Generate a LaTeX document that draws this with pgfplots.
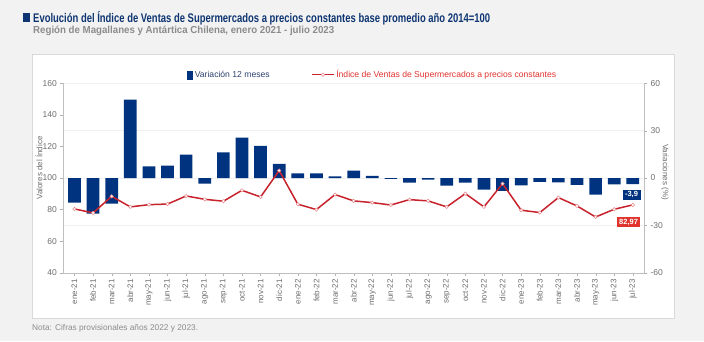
\documentclass[border=0pt]{standalone}
\usepackage{pgfplots}
\pgfplotsset{compat=1.18}
\usepackage{fontspec}
\setmainfont{Liberation Sans}
\definecolor{barblue}{HTML}{00337F}
\definecolor{linered}{HTML}{C8232C}
\definecolor{markred}{HTML}{E8868A}
\definecolor{titleblue}{HTML}{0E3572}
\definecolor{subgray}{HTML}{8C8C8C}
\definecolor{bggray}{HTML}{F2F2F2}
\definecolor{ticgray}{HTML}{6E6E6E}
\definecolor{legblue}{HTML}{2E4170}
\definecolor{labred}{HTML}{E0332E}
\pgfplotsset{longline legend/.style={legend image code/.code={\draw[mark repeat=2,mark phase=2,##1, line width=0.6pt] plot coordinates {(0pt,0pt) (11pt,0pt) (22pt,0pt)};}}}
\newcommand\titletext{Evolución del Índice de Ventas de Supermercados a precios constantes base promedio año 2014=100}
\newcommand\subtext{Región de Magallanes y Antártica Chilena, enero 2021 - julio 2023}
\begin{document}
\begin{tikzpicture}[x=1pt,y=1pt]
\fill[bggray] (0,0) rectangle (704,341);
\filldraw[fill=white, draw=gray!30] (31.7,23) rectangle (674,287);
\fill[titleblue] (23,319) rectangle (30,328);
\node[anchor=base west, inner sep=0, text=titleblue] at (33,318.5) {\resizebox{457pt}{\height}{\fontsize{12.5}{12.5}\selectfont\bfseries\titletext}};
\node[anchor=base west, inner sep=0, text=subgray] at (33,307.5) {\resizebox{301pt}{\height}{\fontsize{10.2}{10.2}\selectfont\bfseries\subtext}};
\node[anchor=base west, inner sep=0, text=subgray, font=\fontsize{8.3}{9}\selectfont] at (32,11) {Nota: Cifras provisionales años 2022 y 2023.};
% right axis: bars
\begin{axis}[at={(63.3pt,68.3pt)}, anchor=south west, scale only axis,
  width=580.7pt, height=189.4pt,
  xmin=-0.6, xmax=30.6, ymin=-60, ymax=60,
  hide x axis, axis y line*=right,
  ytick={-60,-30,0,30,60},
  ymajorgrids, grid style={gray!12},
  axis line style={gray!50}, tick style={gray!60},
  tick align=outside, major tick length=3pt,
  /pgf/number format/assume math mode=true,
  tick label style={font=\fontsize{8.5}{9}\selectfont, text=ticgray},
  ylabel={Variaciones (\%)},
  ylabel style={rotate=180, at={(axis description cs:1.036,0.532)}, anchor=center, font=\fontsize{8}{9}\selectfont, text=ticgray},
  clip=false]
\addplot[ybar, bar width=12.7pt, fill=barblue, draw=none] coordinates {
(0,-15.6) (1,-22.5) (2,-16.2) (3,49.6) (4,7.4) (5,7.8) (6,14.8) (7,-3.5) (8,16.3) (9,25.6) (10,20.3) (11,8.9)
(12,3.0) (13,3.0) (14,1.1) (15,4.7) (16,1.3) (17,-0.5) (18,-3.0) (19,-1.0) (20,-4.9) (21,-3.0) (22,-7.4) (23,-8.2)
(24,-4.6) (25,-2.5) (26,-2.7) (27,-4.4) (28,-10.5) (29,-4.0) (30,-3.9)};
\node[fill=barblue, text=white, font=\fontsize{7.5}{8}\selectfont\bfseries, inner xsep=2.5pt, inner ysep=2pt] at (axis cs:29.93,-10.6) {-3,9};
\end{axis}
% left axis: line
\begin{axis}[at={(63.3pt,68.3pt)}, anchor=south west, scale only axis,
  width=580.7pt, height=189.4pt,
  xmin=-0.6, xmax=30.6, ymin=40, ymax=160,
  axis y line*=left, axis x line*=bottom,
  ytick={40,60,...,160},
  xtick={0,...,30},
  xticklabels={ene-21,feb-21,mar-21,abr-21,may-21,jun-21,jul-21,ago-21,sep-21,oct-21,nov-21,dic-21,ene-22,feb-22,mar-22,abr-22,may-22,jun-22,jul-22,ago-22,sep-22,oct-22,nov-22,dic-22,ene-23,feb-23,mar-23,abr-23,may-23,jun-23,jul-23},
  x tick label style={rotate=90, anchor=east, font=\fontsize{8}{9}\selectfont},
  axis line style={gray!50}, tick style={gray!60},
  tick align=outside, major tick length=3pt,
  /pgf/number format/assume math mode=true,
  tick label style={text=ticgray},
  y tick label style={font=\fontsize{8.5}{9}\selectfont},
  ylabel={Valores del Índice},
  ylabel style={at={(axis description cs:-0.042,0.553)}, anchor=center, font=\fontsize{8}{9}\selectfont, text=ticgray},
  legend columns=2,
  legend style={at={(axis description cs:0.533,1.045)}, anchor=center, draw=none, fill=none,
    font=\fontsize{8.6}{9}\selectfont, /tikz/every even column/.append style={column sep=40pt}},
  clip=false]
\addlegendimage{legend image code/.code={\fill[barblue] (0pt,-4pt) rectangle (5pt,4pt);}}
\addlegendentry{\textcolor{legblue}{Variación 12 meses}}
\addplot[linered, line width=1.5pt, mark=*, mark size=1.7pt,
  mark options={fill=white, draw=markred, line width=0.5pt}, longline legend]
 coordinates {
(0,80.4) (1,77.9) (2,88.4) (3,81.7) (4,83.1) (5,83.5) (6,88.6) (7,86.5) (8,85.3) (9,92.2) (10,88.0) (11,104.7)
(12,83.4) (13,80.0) (14,89.5) (15,85.5) (16,84.4) (17,82.9) (18,86.3) (19,85.5) (20,81.7) (21,90.1) (22,81.7) (23,96.4)
(24,79.6) (25,78.1) (26,87.6) (27,82.3) (28,75.3) (29,80.2) (30,82.97)};
\addlegendentry{\textcolor{labred}{Índice de Ventas de Supermercados a precios constantes}}
\node[fill=labred, text=white, font=\fontsize{7.5}{8}\selectfont\bfseries, inner xsep=2.5pt, inner ysep=1.5pt] at (axis cs:29.77,72.05) {82,97};
\end{axis}
\end{tikzpicture}
\end{document}
